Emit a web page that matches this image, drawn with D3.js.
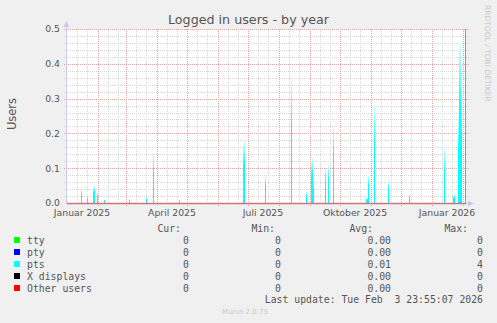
<!DOCTYPE html>
<html>
<head>
<meta charset="utf-8">
<script src="https://cdn.jsdelivr.net/npm/d3@7"></script>
<style>
  html, body { margin: 0; padding: 0; background: #f0f0f0; }
  svg { display: block; }
  text { font-family: "DejaVu Sans", sans-serif; fill: #555; }
  .mono { font-family: "DejaVu Sans Mono", monospace; font-size: 9.8px; white-space: pre; }
</style>
</head>
<body>
<svg id="chart"></svg>
<script>
// DATOS
const seriesNames = ["tty", "pty", "pts", "X displays", "Other users"];
const seriesColors = ["#00ff00", "#0000ff", "#00ffff", "#000000", "#ff0000"];
const curVals = ["0", "0", "0", "0", "0"];
const minVals = ["0", "0", "0", "0", "0"];
const avgVals = ["0.00", "0.00", "0.01", "0.00", "0.00"];
const maxVals = ["0", "0", "4", "0", "0"];

// pts: days with logged users (daily average), all other days are 0
const ptsDays = [
  "2025-01-15", "2025-01-21", "2025-01-27", "2025-01-28", "2025-01-31", "2025-02-07",
  "2025-03-04", "2025-03-21", "2025-03-28", "2025-04-23", "2025-06-26", "2025-06-27",
  "2025-07-18", "2025-08-13", "2025-08-28", "2025-09-02", "2025-09-03", "2025-09-04",
  "2025-09-16", "2025-09-19", "2025-09-24", "2025-10-27", "2025-10-28", "2025-10-29",
  "2025-11-04", "2025-11-18", "2025-12-09", "2026-01-13", "2026-01-22", "2026-01-23",
  "2026-01-27", "2026-01-28", "2026-01-29", "2026-01-30"
];
const ptsValues = [
  0.04, 0.02, 0.045, 0.05, 0.03, 0.01,
  0.012, 0.015, 0.14, 0.01, 0.17, 0.18,
  0.08, 0.36, 0.032, 0.12, 0.13, 0.06,
  0.10, 0.11, 0.22, 0.015, 0.012, 0.08,
  0.28, 0.063, 0.024, 0.155, 0.022, 0.025,
  0.25, 0.45, 0.46, 0.32
];

const yTicks = [0, 0.1, 0.2, 0.3, 0.4, 0.5];
const xLabels = ["Januar 2025", "April 2025", "Juli 2025", "Oktober 2025", "Januar 2026"];
const xLabelMonths = ["2025-01-01", "2025-04-01", "2025-07-01", "2025-10-01", "2026-01-01"];
const timeStart = "2024-12-31";
const timeEnd = "2026-02-04";

// SVG
const width = 497, height = 323;
const svg = d3.select("#chart").attr("width", width).attr("height", height);

const parse = d3.utcParse("%Y-%m-%d");
const t0 = parse(timeStart), t1 = parse(timeEnd);

// ESCALAS
const x = d3.scaleUtc().domain([t0, t1]).range([66, 466]);
const y = d3.scaleLinear().domain([0, 0.5]).range([203, 29]);

// fondo blanco del grafico
svg.append("rect")
  .attr("x", 67).attr("y", 29)
  .attr("width", 399).attr("height", 174)
  .attr("fill", "#ffffff");

// degradado de las barras
const grad = svg.append("defs").append("linearGradient")
  .attr("id", "fade").attr("x1", 0).attr("y1", 0).attr("x2", 0).attr("y2", 1);
grad.append("stop").attr("offset", "0%").attr("stop-color", "#d8ffff");
grad.append("stop").attr("offset", "38%").attr("stop-color", "#00ffff");
grad.append("stop").attr("offset", "100%").attr("stop-color", "#00ffff");

// GRID
const grid = svg.append("g").attr("shape-rendering", "crispEdges");

// minor horizontal
grid.selectAll(".hmin")
  .data(d3.range(0.02, 0.5, 0.02).filter(v => Math.abs(v * 10 - Math.round(v * 10)) > 1e-6))
  .enter().append("line")
  .attr("x1", 64).attr("x2", 469)
  .attr("y1", d => Math.round(y(d)) + 0.5).attr("y2", d => Math.round(y(d)) + 0.5)
  .attr("stroke", "#d6d6d6").attr("stroke-dasharray", "1,1");

// minor vertical (dias 11 y 21 de cada mes)
const months = d3.utcMonth.range(d3.utcMonth.ceil(t0), t1);
const minorDays = [];
months.forEach(m => { minorDays.push(d3.utcDay.offset(m, 10)); minorDays.push(d3.utcDay.offset(m, 20)); });
grid.selectAll(".vmin")
  .data(minorDays.filter(d => d < t1))
  .enter().append("line")
  .attr("y1", 29).attr("y2", 205)
  .attr("x1", d => x(d) + 0.5).attr("x2", d => x(d) + 0.5)
  .attr("stroke", "#d6d6d6").attr("stroke-dasharray", "1,1");

// major horizontal
grid.selectAll(".hmaj")
  .data(yTicks.slice(1))
  .enter().append("line")
  .attr("x1", 64).attr("x2", 469)
  .attr("y1", d => Math.round(y(d)) + 0.5).attr("y2", d => Math.round(y(d)) + 0.5)
  .attr("stroke", "#e8a0a0").attr("stroke-dasharray", "1,1");

// major vertical (inicio de mes)
grid.selectAll(".vmaj")
  .data(months.slice(1))
  .enter().append("line")
  .attr("y1", 29).attr("y2", 206)
  .attr("x1", d => x(d) + 0.5).attr("x2", d => x(d) + 0.5)
  .attr("stroke", "#e8a0a0").attr("stroke-dasharray", "1,1");

// BARRAS pts
svg.append("g").attr("shape-rendering", "crispEdges")
  .selectAll("rect")
  .data(ptsDays.map((d, i) => ({ day: parse(d), value: ptsValues[i] })))
  .enter().append("rect")
  .attr("x", d => x(d.day))
  .attr("width", d => x(d3.utcDay.offset(d.day, 1)) - x(d.day))
  .attr("y", d => y(d.value))
  .attr("height", d => y(0) - y(d.value))
  .attr("fill", "url(#fade)");

// ejes
const axisColor = "#c8c8f0";
svg.append("line")
  .attr("x1", 66.5).attr("x2", 66.5).attr("y1", 26).attr("y2", 204)
  .attr("stroke", axisColor);
svg.append("path")
  .attr("d", "M66.5,21 L63.5,27 L69.5,27 Z")
  .attr("fill", axisColor);
svg.append("line")
  .attr("x1", 66).attr("x2", 469).attr("y1", 203.5).attr("y2", 203.5)
  .attr("stroke", axisColor);
svg.append("path")
  .attr("d", "M474,203.5 L468,200.5 L468,206.5 Z")
  .attr("fill", axisColor);

// linea Other users (0)
svg.append("path")
  .datum([t0, t1].map(d => ({ day: d, value: +curVals[4] })))
  .attr("d", d3.line().x(d => Math.max(67, x(d.day))).y(d => y(d.value) + 0.5))
  .attr("stroke", "#d04040").attr("stroke-opacity", 0.65)
  .attr("stroke-width", 1.6).attr("fill", "none");

// borde derecho
svg.append("line")
  .attr("x1", 465.5).attr("x2", 465.5).attr("y1", 29).attr("y2", 203)
  .attr("stroke", "#999999");

// ETIQUETAS EJE Y
svg.selectAll(".ylab")
  .data(yTicks)
  .enter().append("text")
  .attr("x", 60).attr("y", d => y(d) + 3.4)
  .attr("text-anchor", "end")
  .style("font-size", "9.3px")
  .text(d => d3.format(".1f")(d));

// ETIQUETAS EJE X
svg.selectAll(".xlab")
  .data(xLabelMonths)
  .enter().append("text")
  .attr("x", d => x(d3.utcDay.offset(parse(d), 15)))
  .attr("y", 216)
  .attr("text-anchor", "middle")
  .style("font-size", "9.3px")
  .text((d, i) => xLabels[i]);

// TITULOS
svg.append("text")
  .attr("x", 248.5).attr("y", 24)
  .attr("text-anchor", "middle")
  .style("font-size", "12.7px")
  .text("Logged in users - by year");

svg.append("text")
  .attr("transform", "translate(16,114) rotate(-90)")
  .attr("text-anchor", "middle")
  .style("font-size", "11.5px")
  .text("Users");

svg.append("text")
  .attr("transform", "translate(485,5) rotate(90)")
  .style("font-size", "7.5px").style("fill", "#c8c8c8")
  .text("RRDTOOL / TOBI OETIKER");

// LEYENDA
const legendTop = 231.5, rowH = 12;
const headers = [["Cur:", 181], ["Min:", 275], ["Avg:", 373], ["Max:", 468]];
svg.selectAll(".hdr")
  .data(headers)
  .enter().append("text")
  .attr("class", "mono")
  .attr("x", d => d[1]).attr("y", legendTop)
  .attr("text-anchor", "end")
  .text(d => d[0]);

const rows = svg.selectAll(".row")
  .data(seriesNames)
  .enter().append("g")
  .attr("transform", (d, i) => `translate(0,${legendTop + rowH * (i + 1)})`);

rows.append("rect")
  .attr("x", 14).attr("y", -6.5).attr("width", 6).attr("height", 6)
  .attr("fill", (d, i) => seriesColors[i]);
rows.append("text").attr("class", "mono").attr("x", 27).text(d => d);

const cols = [[curVals, 189], [minVals, 281], [avgVals, 391], [maxVals, 483]];
cols.forEach(([vals, cx]) => {
  rows.append("text").attr("class", "mono")
    .attr("x", cx).attr("text-anchor", "end")
    .text((d, i) => vals[i]);
});

svg.append("text").attr("class", "mono")
  .attr("x", 483).attr("y", legendTop + rowH * 6 - 0.5)
  .attr("text-anchor", "end")
  .text("Last update: Tue Feb  3 23:55:07 2026");

svg.append("text")
  .attr("x", 245).attr("y", 314)
  .attr("text-anchor", "middle")
  .style("font-size", "7px").style("fill", "#c8c8c8")
  .text("Munin 2.0.75");
</script>
</body>
</html>
